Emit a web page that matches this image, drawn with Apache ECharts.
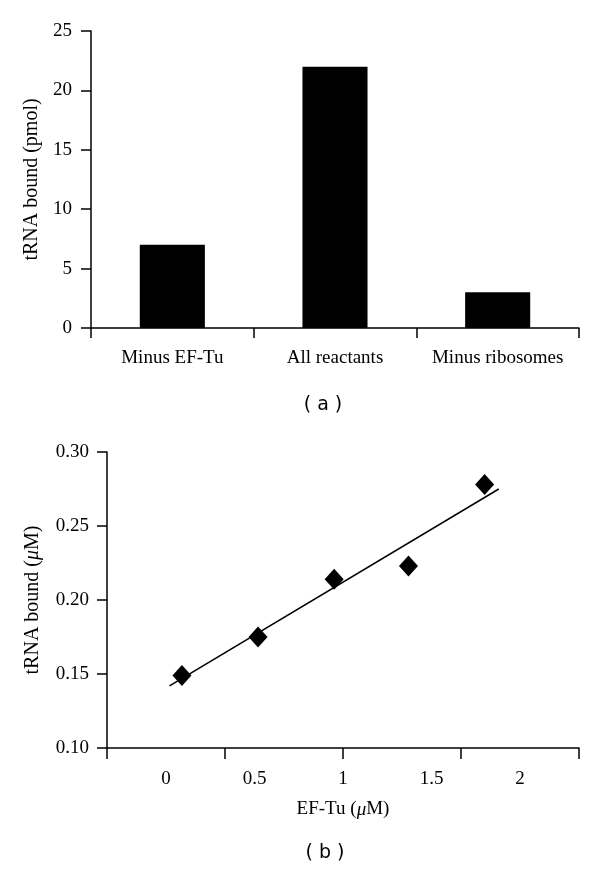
<!DOCTYPE html>
<html>
<head>
<meta charset="utf-8">
<script src="https://cdn.jsdelivr.net/npm/echarts@6/dist/echarts.min.js"></script>
<style>html,body{margin:0;padding:0;background:#fff}#c{width:600px;height:871px}</style>
</head>
<body>
<div id="c"></div>
<script>
// Panel (a)
var barCategories = ['Minus EF-Tu', 'All reactants', 'Minus ribosomes'];
var barValues = [7, 22, 3];
var barYTicks = [0, 5, 10, 15, 20, 25];

// Panel (b)
var efTu = [0.09, 0.52, 0.95, 1.37, 1.80];
var trnaBound = [0.149, 0.175, 0.214, 0.223, 0.278];
var fitX = [0.02, 1.88];
var fitY = [0.142, 0.275];
var scatterXLabels = [0, 0.5, 1, 1.5, 2];
var scatterXTicks = [-1/3, 1/3, 1, 5/3, 7/3];

var serif = 'Liberation Serif';
var axisLineStyle = { color: '#000', width: 1.5 };
var labelStyle = { color: '#000', fontFamily: serif, fontSize: 19 };

var chart = echarts.init(document.getElementById('c'), null, { renderer: 'canvas' });
chart.setOption({
  animation: false,
  backgroundColor: '#fff',
  grid: [
    { left: 91, right: 21, top: 31, bottom: 543 },
    { left: 107, right: 21, top: 452, bottom: 123 }
  ],
  xAxis: [
    {
      gridIndex: 0, type: 'category', data: barCategories,
      axisLine: { lineStyle: axisLineStyle },
      axisTick: { show: true, length: 10, alignWithLabel: false, lineStyle: axisLineStyle },
      axisLabel: Object.assign({ margin: 21, interval: 0, hideOverlap: false }, labelStyle),
      splitLine: { show: false }
    },
    {
      gridIndex: 1, type: 'value', min: -1/3, max: 7/3,
      axisLine: { onZero: false, lineStyle: axisLineStyle },
      axisTick: { show: true, length: 11, customValues: scatterXTicks, lineStyle: axisLineStyle },
      axisLabel: Object.assign({ margin: 22, customValues: scatterXLabels, formatter: function (v) { return String(v); } }, labelStyle),
      splitLine: { show: false },
      name: 'EF-Tu ({i|μ}M)', nameLocation: 'middle', nameGap: 52,
      nameTextStyle: { color: '#000', fontFamily: serif, fontSize: 19, rich: { i: { fontStyle: 'italic', fontFamily: serif, fontSize: 19, color: '#000' } } }
    }
  ],
  yAxis: [
    {
      gridIndex: 0, type: 'value', min: 0, max: 25, interval: 5,
      axisLine: { show: true, onZero: false, lineStyle: axisLineStyle },
      axisTick: { show: true, length: 10, lineStyle: axisLineStyle },
      axisLabel: Object.assign({ margin: 19 }, labelStyle),
      splitLine: { show: false },
      name: 'tRNA bound (pmol)', nameLocation: 'middle', nameGap: 49, nameRotate: 90,
      nameTextStyle: { color: '#000', fontFamily: serif, fontSize: 20 }
    },
    {
      gridIndex: 1, type: 'value', min: 0.10, max: 0.30, interval: 0.05,
      axisLine: { show: true, onZero: false, lineStyle: axisLineStyle },
      axisTick: { show: true, length: 10, lineStyle: axisLineStyle },
      axisLabel: Object.assign({ margin: 18, formatter: function (v) { return v.toFixed(2); } }, labelStyle),
      splitLine: { show: false },
      name: 'tRNA bound ({i|μ}M)', nameLocation: 'middle', nameGap: 64, nameRotate: 90,
      nameTextStyle: { color: '#000', fontFamily: serif, fontSize: 20, rich: { i: { fontStyle: 'italic', fontFamily: serif, fontSize: 20, color: '#000' } } }
    }
  ],
  series: [
    {
      type: 'bar', xAxisIndex: 0, yAxisIndex: 0, data: barValues,
      barWidth: '40%', itemStyle: { color: '#000' }
    },
    {
      type: 'line', xAxisIndex: 1, yAxisIndex: 1,
      data: fitX.map(function (x, i) { return [x, fitY[i]]; }),
      showSymbol: false, symbol: 'none',
      lineStyle: { color: '#000', width: 1.5 }
    },
    {
      type: 'scatter', xAxisIndex: 1, yAxisIndex: 1,
      data: efTu.map(function (x, i) { return [x, trnaBound[i]]; }),
      symbol: 'diamond', symbolSize: [19, 21],
      itemStyle: { color: '#000', opacity: 1 }
    }
  ],
  graphic: [
    { type: 'text', x: 323, y: 405, style: { text: '( a )', fill: '#000', font: '19px "DejaVu Sans"', textAlign: 'center', textVerticalAlign: 'middle' } },
    { type: 'text', x: 325, y: 853, style: { text: '( b )', fill: '#000', font: '19px "DejaVu Sans"', textAlign: 'center', textVerticalAlign: 'middle' } }
  ]
});
</script>
</body>
</html>
